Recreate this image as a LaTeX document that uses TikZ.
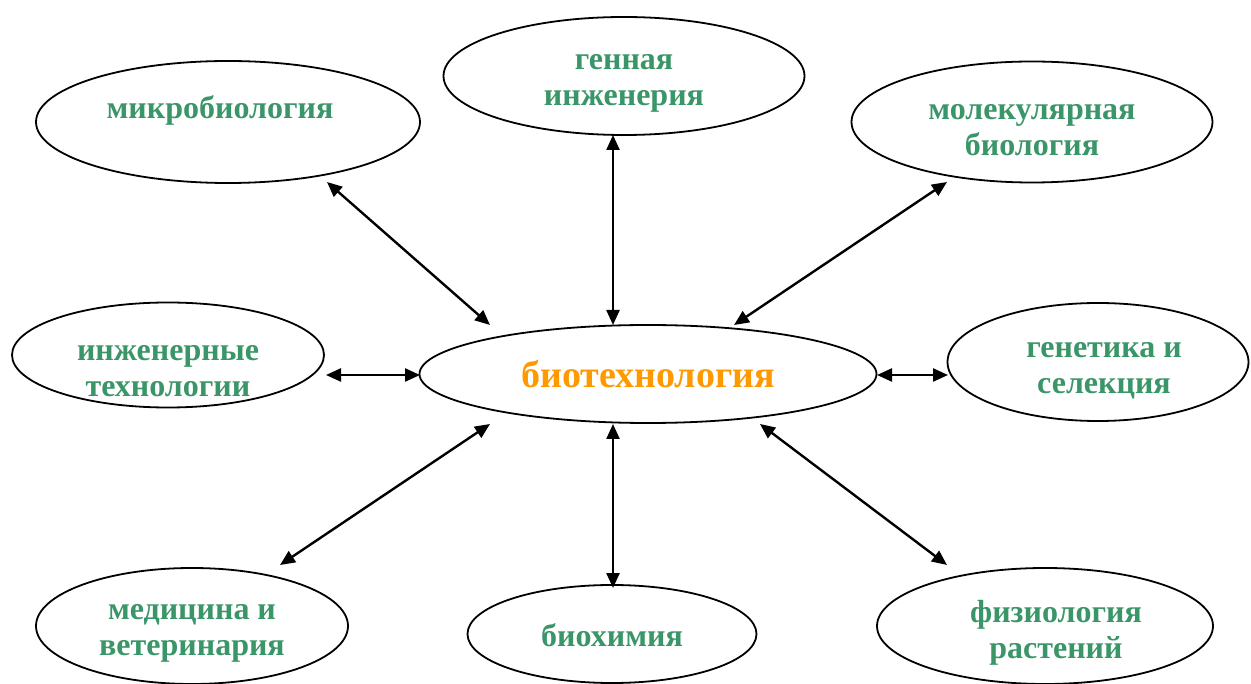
\documentclass[tikz,border=0pt]{standalone}
\usepackage{fontspec}
\setmainfont{Liberation Serif}
\usetikzlibrary{shapes.geometric,arrows.meta}
\definecolor{tgreen}{RGB}{58,150,104}
\definecolor{torange}{RGB}{255,153,0}
\tikzset{
  oval/.style={ellipse,draw=black,line width=1.8pt,inner sep=0pt},
  lbl/.style={inner sep=0pt,font=\bfseries\fontsize{32}{36}\selectfont,text=tgreen,align=center},
  link/.style={line width=2.4pt,{Triangle[length=15pt,width=13pt]}-{Triangle[length=15pt,width=13pt]}}
}
\begin{document}
\begin{tikzpicture}[x=1pt,y=-1pt]
\useasboundingbox (0,0) rectangle (1251,684);
\node[oval,minimum width=457pt,minimum height=98pt] (bio) at (648,374) {};
\node[oval,minimum width=384pt,minimum height=122pt] (mic) at (228,122) {};
\node[oval,minimum width=361pt,minimum height=118pt] (gen) at (624,76) {};
\node[oval,minimum width=361pt,minimum height=121pt] (mol) at (1032,122) {};
\node[oval,minimum width=312pt,minimum height=105pt] (ing) at (168,355) {};
\node[oval,minimum width=301pt,minimum height=118pt] (gsl) at (1098,362) {};
\node[oval,minimum width=312pt,minimum height=116pt] (med) at (192,626) {};
\node[oval,minimum width=289pt,minimum height=98pt] (bch) at (612,634) {};
\node[oval,minimum width=336pt,minimum height=116pt] (fiz) at (1045,626) {};
% texts
\node[lbl,text=torange,font=\bfseries\fontsize{38}{40}\selectfont] (biot) at (648,374) {биотехнология};
\node[lbl] (mict) at (220,110) {микробиология};
\node[lbl] (gent) at (624,83) {генная\\инженерия};
\node[lbl] (molt) at (1032,130) {молекулярная\\биология};
\node[lbl] (ingt) at (168,371) {инженерные\\технологии};
\node[lbl] (gslt) at (1104,371) {генетика и\\селекция};
\node[lbl] (medt) at (192,633) {медицина и\\ветеринария};
\node[lbl] (bcht) at (612,635) {биохимия};
\node[lbl] (fizt) at (1056,633) {физиология\\растений};
% arrow end points near nodes
\coordinate (micA) at (327,182); \coordinate (micB) at (490,325);
\coordinate (genA) at (613,135); \coordinate (genB) at (613,325);
\coordinate (molA) at (947,182); \coordinate (molB) at (734,325);
\coordinate (ingA) at (326,375); \coordinate (ingB) at (420,375);
\coordinate (gslA) at (948,375); \coordinate (gslB) at (877,375);
\coordinate (medA) at (280,565); \coordinate (medB) at (490,424);
\coordinate (bchA) at (613,588); \coordinate (bchB) at (613,424);
\coordinate (fizA) at (947,565); \coordinate (fizB) at (760,424);
\draw[link] (micA) -- (micB);
\draw[link] (genA) -- (genB);
\draw[link] (molA) -- (molB);
\draw[link] (ingA) -- (ingB);
\draw[link] (gslA) -- (gslB);
\draw[link] (medA) -- (medB);
\draw[link] (bchA) -- (bchB);
\draw[link] (fizA) -- (fizB);
\end{tikzpicture}
\end{document}
